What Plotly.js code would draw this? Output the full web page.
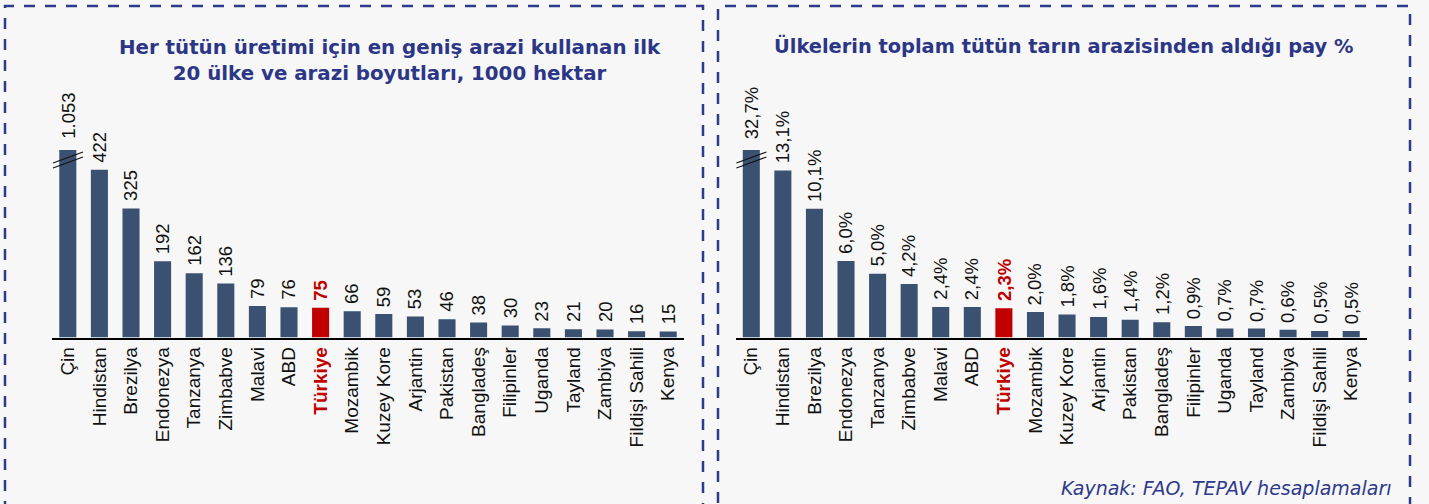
<!DOCTYPE html>
<html>
<head>
<meta charset="utf-8">
<script src="https://cdn.plot.ly/plotly-3.0.1.min.js"></script>
<style>
  html, body { margin: 0; padding: 0; background: #f7f7f7; }
  #chart { width: 1429px; height: 504px; }
</style>
</head>
<body>
<div id="chart"></div>
<script>
// ---- data ----
const countries = ['Çin', 'Hindistan', 'Brezilya', 'Endonezya', 'Tanzanya', 'Zimbabve', 'Malavi', 'ABD', 'Türkiye',
  'Mozambik', 'Kuzey Kore', 'Arjantin', 'Pakistan', 'Bangladeş', 'Filipinler', 'Uganda', 'Tayland', 'Zambiya',
  'Fildişi Sahili', 'Kenya'];
const areaThousandHa = [1053, 422, 325, 192, 162, 136, 79, 76, 75, 66, 59, 53, 46, 38, 30, 23, 21, 20, 16, 15];
const areaLabels = ['1.053', '422', '325', '192', '162', '136', '79', '76', '75', '66', '59', '53', '46', '38', '30',
  '23', '21', '20', '16', '15'];
const sharePct = [32.7, 13.1, 10.1, 6.0, 5.0, 4.2, 2.4, 2.4, 2.3, 2.0, 1.8, 1.6, 1.4, 1.2, 0.9, 0.7, 0.7, 0.6, 0.5, 0.5];
const shareLabels = ['32,7%', '13,1%', '10,1%', '6,0%', '5,0%', '4,2%', '2,4%', '2,4%', '2,3%', '2,0%', '1,8%', '1,6%',
  '1,4%', '1,2%', '0,9%', '0,7%', '0,7%', '0,6%', '0,5%', '0,5%'];
const highlight = 'Türkiye';
const title1 = 'Her tütün üretimi için en geniş arazi kullanan ilk<br>20 ülke ve arazi boyutları, 1000 hektar';
const title2 = 'Ülkelerin toplam tütün tarın arazisinden aldığı pay %';
const sourceText = 'Kaynak: FAO, TEPAV hesaplamaları';
// axis tops (broken axis: the first bar is cut at the top of the plot area)
const yTop1 = 472;
const yTop2 = 14.7;

// ---- style ----
const W = 1429, H = 504;
const barBlue = '#3a5172';
const red = '#c00000';
const navy = '#2c3686';
const tickFont = {family: 'Liberation Sans, Arial, sans-serif', size: 19, color: '#111'};
const titleFamily = 'DejaVu Sans, sans-serif';

const colorsFor = cats => cats.map(c => c === highlight ? red : barBlue);
const tickTextFor = cats => cats.map(c => c === highlight ? `<span style="color:${red}"><b>${c}</b></span>` : c);

const px = v => v / W;
const py = v => 1 - v / H;

const traces = [
  {type: 'bar', x: countries, y: areaThousandHa, xaxis: 'x', yaxis: 'y', marker: {color: colorsFor(countries)},
   hoverinfo: 'x+y', cliponaxis: true},
  {type: 'bar', x: countries, y: sharePct, xaxis: 'x2', yaxis: 'y2', marker: {color: colorsFor(countries)},
   hoverinfo: 'x+y', cliponaxis: true}
];

const annotations = [];
function addValueLabels(vals, labels, xref, yref, top) {
  vals.forEach((v, i) => {
    const isCut = v > top;
    annotations.push({
      x: countries[i], y: Math.min(v, top), xref: xref, yref: yref,
      text: countries[i] === highlight ? `<b>${labels[i]}</b>` : labels[i],
      showarrow: false, textangle: -90, yanchor: 'bottom', xanchor: 'center',
      yshift: isCut ? 9 : 5,
      font: {family: tickFont.family, size: 18.5, color: countries[i] === highlight ? red : '#111'}
    });
  });
}
addValueLabels(areaThousandHa, areaLabels, 'x', 'y', yTop1);
addValueLabels(sharePct, shareLabels, 'x2', 'y2', yTop2);

annotations.push({
  xref: 'paper', yref: 'paper', x: px(390), y: py(60), xanchor: 'center', yanchor: 'middle',
  text: `<b>${title1}</b>`, showarrow: false, align: 'center',
  font: {family: titleFamily, size: 19.8, color: navy}
});
annotations.push({
  xref: 'paper', yref: 'paper', x: px(1063), y: py(46), xanchor: 'center', yanchor: 'middle',
  text: `<b>${title2}</b>`, showarrow: false,
  font: {family: titleFamily, size: 19.4, color: navy}
});
annotations.push({
  xref: 'paper', yref: 'paper', x: px(1394), y: py(488), xanchor: 'right', yanchor: 'middle',
  text: `<i>${sourceText}</i>`, showarrow: false,
  font: {family: titleFamily, size: 19, color: '#2e3a8c'}
});

// break marks on the first bar of each panel (category index 0)
function breakMarks(xref, yref, top) {
  const s = top / 187.5; // data units per pixel
  const mk = (dy) => ({
    type: 'line', xref: xref, yref: yref, x0: -0.47, x1: 0.48,
    y0: top - (13 + dy) * s, y1: top - (2 + dy) * s,
    line: {color: '#111', width: 1.2}
  });
  return [mk(0), mk(5)];
}

const dashed = {color: '#2e3a8c', width: 2.5, dash: '11px,10px'};
const shapes = [
  {type: 'rect', xref: 'paper', yref: 'paper', x0: px(5), x1: px(703), y0: py(530), y1: py(6), line: dashed},
  {type: 'rect', xref: 'paper', yref: 'paper', x0: px(718), x1: px(1410), y0: py(530), y1: py(6), line: dashed},
  ...breakMarks('x', 'y', yTop1),
  ...breakMarks('x2', 'y2', yTop2)
];

const xBase = {
  type: 'category', showline: true, linecolor: '#000', linewidth: 2, ticks: '', showgrid: false,
  tickangle: -90, tickfont: tickFont, zeroline: false, fixedrange: true
};
const yBase = {visible: false, showgrid: false, zeroline: false, fixedrange: true};

const layout = {
  width: W, height: H,
  margin: {l: 0, r: 0, t: 0, b: 0},
  paper_bgcolor: '#f7f7f7', plot_bgcolor: 'rgba(0,0,0,0)',
  showlegend: false, bargap: 0.46,
  xaxis: Object.assign({}, xBase, {domain: [px(52), px(684)], tickvals: countries, ticktext: tickTextFor(countries)}),
  xaxis2: Object.assign({}, xBase, {domain: [px(735.5), px(1367)], anchor: 'y2', tickvals: countries, ticktext: tickTextFor(countries)}),
  yaxis: Object.assign({}, yBase, {domain: [py(337.5), py(150)], range: [0, yTop1]}),
  yaxis2: Object.assign({}, yBase, {domain: [py(337.5), py(150)], range: [0, yTop2], anchor: 'x2'}),
  annotations: annotations,
  shapes: shapes
};

Plotly.newPlot('chart', traces, layout, {displayModeBar: false, staticPlot: true});
</script>
</body>
</html>
